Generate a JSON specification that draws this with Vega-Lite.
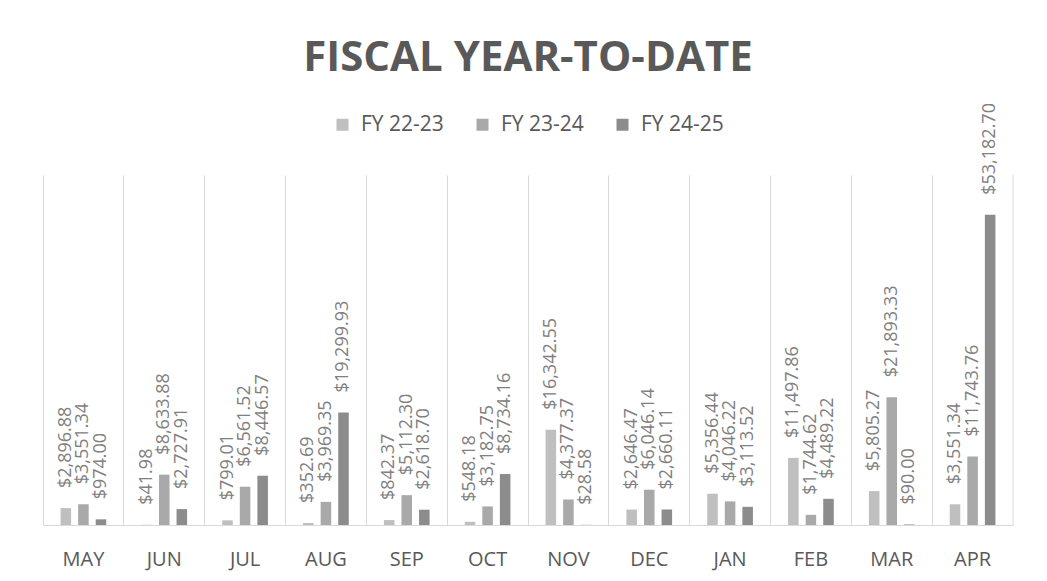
{
  "$schema": "https://vega.github.io/schema/vega-lite/v6.json",
  "width": 970,
  "height": 350,
  "autosize": {"type": "none"},
  "padding": {"left": 43, "top": 175, "right": 34, "bottom": 56},
  "background": "white",
  "title": {
    "text": "FISCAL YEAR-TO-DATE",
    "font": "Open Sans",
    "fontSize": 42,
    "fontWeight": "bold",
    "color": "#595959",
    "anchor": "middle",
    "offset": 23
  },
  "config": {
    "view": {"stroke": null},
    "font": "Open Sans",
    "legend": {"layout": {"top": {"anchor": "middle"}}}
  },
  "data": {
    "values": [
      {"month": "MAY", "fy": "FY 22-23", "value": 2896.88},
      {"month": "MAY", "fy": "FY 23-24", "value": 3551.34},
      {"month": "MAY", "fy": "FY 24-25", "value": 974.00},
      {"month": "JUN", "fy": "FY 22-23", "value": 41.98},
      {"month": "JUN", "fy": "FY 23-24", "value": 8633.88},
      {"month": "JUN", "fy": "FY 24-25", "value": 2727.91},
      {"month": "JUL", "fy": "FY 22-23", "value": 799.01},
      {"month": "JUL", "fy": "FY 23-24", "value": 6561.52},
      {"month": "JUL", "fy": "FY 24-25", "value": 8446.57},
      {"month": "AUG", "fy": "FY 22-23", "value": 352.69},
      {"month": "AUG", "fy": "FY 23-24", "value": 3969.35},
      {"month": "AUG", "fy": "FY 24-25", "value": 19299.93},
      {"month": "SEP", "fy": "FY 22-23", "value": 842.37},
      {"month": "SEP", "fy": "FY 23-24", "value": 5112.30},
      {"month": "SEP", "fy": "FY 24-25", "value": 2618.70},
      {"month": "OCT", "fy": "FY 22-23", "value": 548.18},
      {"month": "OCT", "fy": "FY 23-24", "value": 3182.75},
      {"month": "OCT", "fy": "FY 24-25", "value": 8734.16},
      {"month": "NOV", "fy": "FY 22-23", "value": 16342.55},
      {"month": "NOV", "fy": "FY 23-24", "value": 4377.37},
      {"month": "NOV", "fy": "FY 24-25", "value": 28.58},
      {"month": "DEC", "fy": "FY 22-23", "value": 2646.47},
      {"month": "DEC", "fy": "FY 23-24", "value": 6046.14},
      {"month": "DEC", "fy": "FY 24-25", "value": 2660.11},
      {"month": "JAN", "fy": "FY 22-23", "value": 5356.44},
      {"month": "JAN", "fy": "FY 23-24", "value": 4046.22},
      {"month": "JAN", "fy": "FY 24-25", "value": 3113.52},
      {"month": "FEB", "fy": "FY 22-23", "value": 11497.86},
      {"month": "FEB", "fy": "FY 23-24", "value": 1744.62},
      {"month": "FEB", "fy": "FY 24-25", "value": 4489.22},
      {"month": "MAR", "fy": "FY 22-23", "value": 5805.27},
      {"month": "MAR", "fy": "FY 23-24", "value": 21893.33},
      {"month": "MAR", "fy": "FY 24-25", "value": 90.00},
      {"month": "APR", "fy": "FY 22-23", "value": 3551.34},
      {"month": "APR", "fy": "FY 23-24", "value": 11743.76},
      {"month": "APR", "fy": "FY 24-25", "value": 53182.70}
    ]
  },
  "encoding": {
    "x": {
      "field": "month",
      "type": "nominal",
      "sort": ["MAY", "JUN", "JUL", "AUG", "SEP", "OCT", "NOV", "DEC", "JAN", "FEB", "MAR", "APR"],
      "scale": {"paddingInner": 0, "paddingOuter": 0},
      "axis": {
        "title": null,
        "labelAngle": 0,
        "labelFont": "Open Sans",
        "labelFontSize": 20,
        "labelColor": "#595959",
        "labelPadding": 24,
        "ticks": false,
        "domainColor": "#d9d9d9",
        "grid": true,
        "gridColor": "#d9d9d9",
        "bandPosition": 0
      }
    }
  },
  "layer": [
    {
      "mark": {"type": "bar"},
      "encoding": {
        "xOffset": {
          "field": "fy",
          "type": "nominal",
          "scale": {"paddingInner": 0.4, "paddingOuter": 1.15}
        },
        "y": {
          "field": "value",
          "type": "quantitative",
          "scale": {"domain": [0, 60000]},
          "axis": null
        },
        "color": {
          "field": "fy",
          "type": "nominal",
          "scale": {"domain": ["FY 22-23", "FY 23-24", "FY 24-25"], "range": ["#bfbfbf", "#a9a9a9", "#8c8c8c"]},
          "legend": {
            "title": null,
            "orient": "top",
            "direction": "horizontal",
            "symbolType": "square",
            "symbolSize": 144,
            "symbolStrokeWidth": 0,
            "labelFont": "Open Sans",
            "labelFontSize": 21,
            "labelColor": "#595959",
            "labelOffset": 8,
            "columnPadding": 28,
            "offset": 40
          }
        }
      }
    },
    {
      "mark": {
        "type": "text",
        "angle": 270,
        "align": "left",
        "baseline": "middle",
        "dx": 20,
        "font": "Open Sans",
        "fontSize": 18,
        "color": "#808080"
      },
      "encoding": {
        "xOffset": {
          "field": "fy",
          "type": "nominal"
        },
        "y": {"field": "value", "type": "quantitative"},
        "text": {"field": "value", "type": "quantitative", "format": "$,.2f"}
      }
    },
    {
      "transform": [{"filter": "datum.month === 'APR' && datum.fy === 'FY 22-23'"}],
      "mark": {"type": "rule", "color": "#d9d9d9"},
      "encoding": {
        "x": {
          "field": "month",
          "type": "nominal",
          "sort": ["MAY", "JUN", "JUL", "AUG", "SEP", "OCT", "NOV", "DEC", "JAN", "FEB", "MAR", "APR"],
          "bandPosition": 1
        }
      }
    }
  ]
}
